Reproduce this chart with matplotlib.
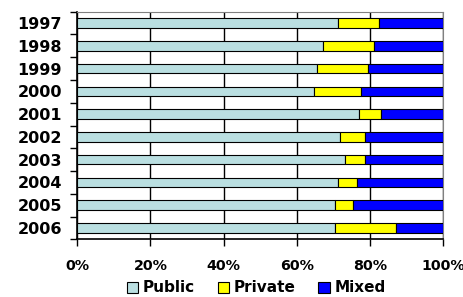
import matplotlib
matplotlib.use("Agg")
import matplotlib.pyplot as plt
from matplotlib.patches import Patch
import numpy as np

years = ["1997", "1998", "1999", "2000", "2001", "2002", "2003", "2004", "2005", "2006"]
public = [71.4, 67.1, 65.5, 64.7, 77.0, 71.9, 73.2, 71.4, 70.6, 70.4]
private = [11.1, 13.9, 14.1, 13.0, 6.0, 6.9, 5.6, 5.0, 4.7, 16.7]
mixed = [100 - a - b for a, b in zip(public, private)]

series = ["Public", "Private", "Mixed"]
colors = ["#BADFE1", "#FFFF00", "#0000FF"]

fig = plt.figure(figsize=(4.64, 2.97), dpi=100)
ax = fig.add_axes([77.3 / 464, 1 - 239.3 / 297, (443 - 77.3) / 464, (239.3 - 11.7) / 297])

y = np.arange(len(years))
left = np.zeros(len(years))
for vals, c in zip([public, private, mixed], colors):
    ax.barh(y, vals, left=left, height=0.41, color=c, edgecolor="black", linewidth=0.8, zorder=3)
    left += np.array(vals)

ax.set_xlim(0, 100)
ax.set_ylim(len(years) - 0.5, -0.5)

ax.set_xticks(np.arange(0, 101, 20))
ax.set_xticklabels([f"{v}%" for v in range(0, 101, 20)], fontsize=10.3, fontweight="bold")
ax.tick_params(axis="x", length=5, width=1, pad=9)
ax.grid(axis="x", color="black", linewidth=1, zorder=0)

ax.set_yticks(y)
ax.set_yticklabels(years, fontsize=11.5, fontweight="bold")
ax.set_yticks(np.arange(-0.5, len(years)), minor=True)
ax.tick_params(axis="y", which="major", length=0, pad=11)
ax.tick_params(axis="y", which="minor", length=5, width=1)

for s in ["top", "right"]:
    ax.spines[s].set_color("#808080")
for s in ["left", "bottom"]:
    ax.spines[s].set_color("black")
    ax.spines[s].set_linewidth(1.2)

handles = [Patch(facecolor=c, edgecolor="black", linewidth=0.8) for c in colors]
fig.legend(handles, series, loc="center", bbox_to_anchor=(0.552, 1 - 288 / 297), ncol=3,
           frameon=False, prop={"size": 11, "weight": "bold"},
           handlelength=0.75, handleheight=0.75, handletextpad=0.3, columnspacing=1.5)

fig.savefig("out.png", dpi=100)
